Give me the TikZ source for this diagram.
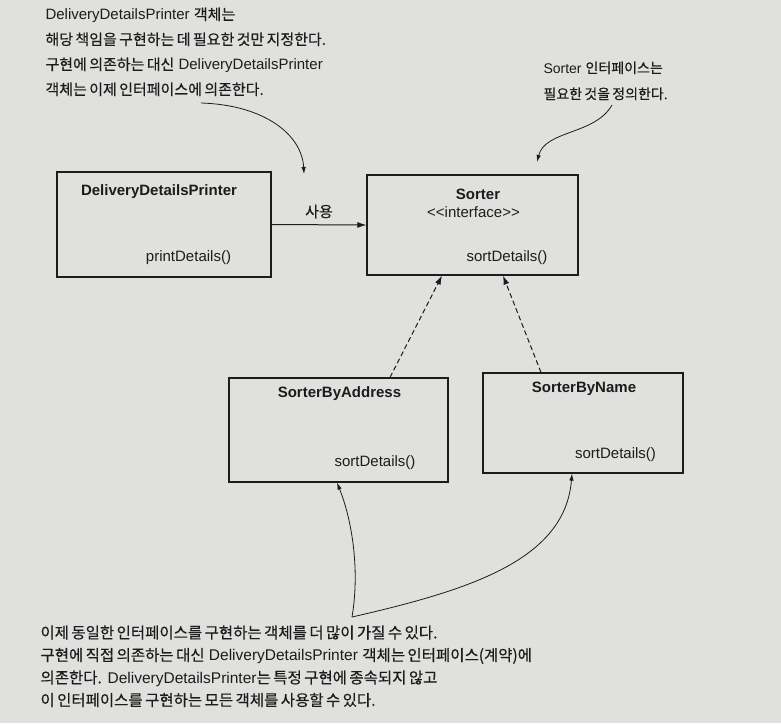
\documentclass[tikz,border=0pt]{standalone}
\usepackage{fontspec}
\setmainfont{Liberation Sans}
\newfontfamily\kofont[Scale=1.0, WordSpace=0.7, FakeBold=0.4]{Noto Sans CJK KR}
\newcommand{\ko}[1]{{\kofont #1}}
\usepackage{xcolor}
\usetikzlibrary{arrows.meta}
\definecolor{pagegray}{RGB}{224,224,222}
\definecolor{ink}{RGB}{28,28,28}

\begin{document}
\begin{tikzpicture}[x=1pt, y=-1pt, line width=1pt,
  classbox/.style={draw=ink, line width=1.2pt, inner sep=0pt},
  titletext/.style={font=\bfseries\fontsize{15}{18}\selectfont, text=ink, inner sep=0pt},
  methodtext/.style={font=\fontsize{15}{18}\selectfont, text=ink, inner sep=0pt},
  note/.style={align=left, anchor=north west, inner sep=0pt, text=ink, font=\fontsize{15}{25}\selectfont},
  uses/.style={-{Latex[length=9pt,width=6pt]}, ink, line width=1pt},
  realizes/.style={-{Latex[length=9pt,width=6pt]}, ink, line width=1pt, dash pattern=on 5pt off 3pt},
  callout/.style={-{Latex[length=7pt,width=4.5pt]}, ink, line width=0.8pt}]
  \useasboundingbox (0,0) rectangle (781,723);
  \fill[pagegray] (0,0) rectangle (781,723);

  \node[note] (leftnote) at (45,7)
        {DeliveryDetailsPrinter \ko{객체는}\\
         \ko{해당 책임을 구현하는 데 필요한 것만 지정한다.}\\
         \ko{구현에 의존하는 대신} DeliveryDetailsPrinter\\
         \ko{객체는 이제 인터페이스에 의존한다.}};
  \node[note, font=\fontsize{14}{26}\selectfont] (rightnote) at (543,61)
        {Sorter \ko{인터페이스는}\\
         \ko{필요한 것을 정의한다.}};
  \node[note, font=\fontsize{15.5}{22.5}\selectfont] (bottomnote) at (40,625)
        {\ko{이제 동일한 인터페이스를 구현하는 객체를 더 많이 가질 수 있다.}\\
         \ko{구현에 직접 의존하는 대신} DeliveryDetailsPrinter \ko{객체는 인터페이스(계약)에}\\
         \ko{의존한다.} DeliveryDetailsPrinter\ko{는 특정 구현에 종속되지 않고}\\
         \ko{이 인터페이스를 구현하는 모든 객체를 사용할 수 있다.}};

  \node[classbox, minimum width=214pt, minimum height=105pt] (printer) at (164,224.5) {};
  \node[titletext] (printername) at (159,192) {DeliveryDetailsPrinter};
  \node[methodtext] (printermethod) at (188.5,258) {printDetails()};

  \node[classbox, minimum width=211pt, minimum height=100pt] (sorter) at (472.5,225) {};
  \node[titletext] (sortername) at (478,194) {Sorter};
  \node[methodtext] (sortertag) at (473.5,212) {<\kern0pt<interface>\kern0pt>};
  \node[methodtext] (sortermethod) at (507,258) {sortDetails()};

  \node[classbox, minimum width=219pt, minimum height=104pt] (byaddress) at (338.5,430) {};
  \node[titletext] (byaddressname) at (339.5,394) {SorterByAddress};
  \node[methodtext] (byaddressmethod) at (375,463) {sortDetails()};

  \node[classbox, minimum width=200pt, minimum height=100pt] (byname) at (583,423) {};
  \node[titletext] (bynamename) at (584,389) {SorterByName};
  \node[methodtext] (bynamemethod) at (615.5,455) {sortDetails()};

  \draw[uses] (printer.east) -- node[above=6pt, methodtext] (uselabel) {\ko{사용}} (sorter.west);
  \draw[realizes] ([xshift=51.5pt]byaddress.north) -- ([xshift=-30.5pt]sorter.south);
  \draw[realizes] ([xshift=-42pt]byname.north) -- ([xshift=30.5pt]sorter.south);

  \coordinate (leftnotetail) at (201,103);
  \coordinate (usetip) at (304,174);
  \coordinate (rightnotetail) at (612,105);
  \coordinate (sortertip) at (537,162);
  \coordinate (bottomnotetail) at (352,617);
  \draw[callout] (leftnotetail) .. controls (265,105) and (302,135) .. (usetip);
  \draw[callout] (rightnotetail) .. controls (595,135) and (545,130) .. (sortertip);
  \draw[callout] (bottomnotetail) .. controls (360,570) and (352,520) .. ([xshift=-1.5pt]byaddress.south);
  \draw[callout] (bottomnotetail) .. controls (470,590) and (565,560) .. ([xshift=-11pt]byname.south);
\end{tikzpicture}
\end{document}
